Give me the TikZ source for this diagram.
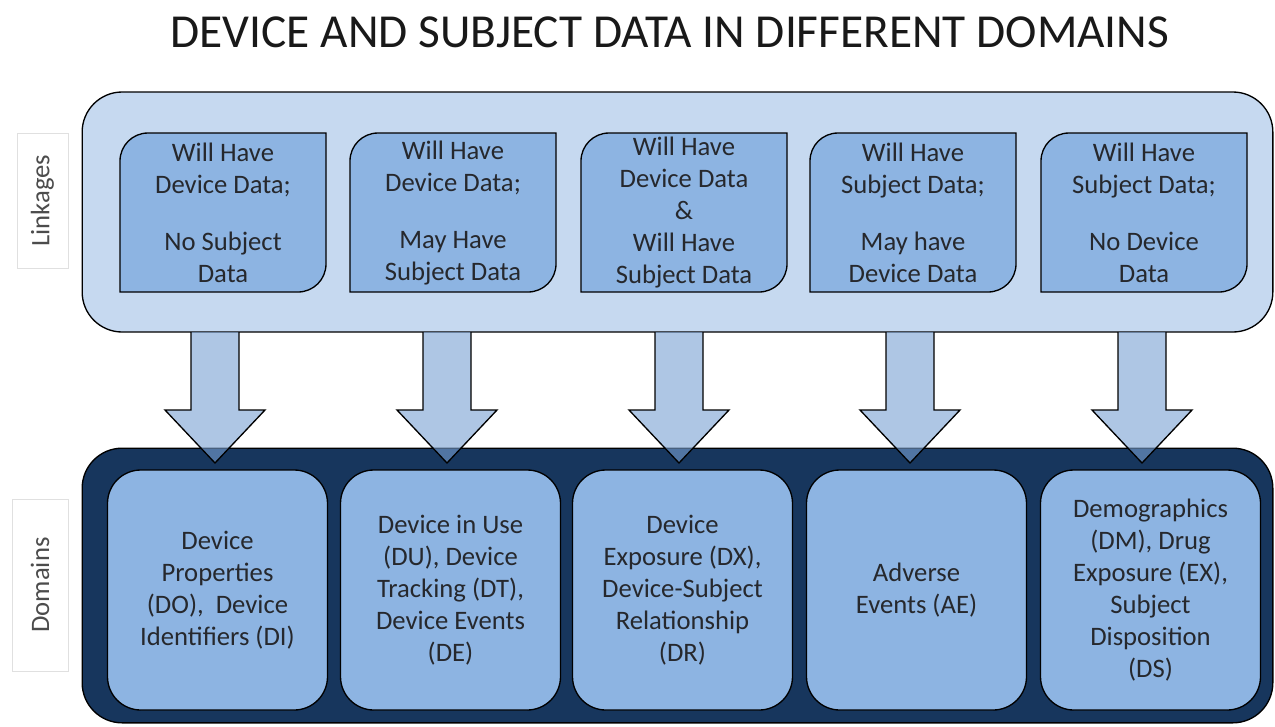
\documentclass[tikz,border=0pt]{standalone}
\usepackage{fontspec}
\setmainfont{Carlito}
\usepackage{xcolor}
\usepackage{tikz}
\usetikzlibrary{calc}

\definecolor{panelbg}{RGB}{198,217,240}
\definecolor{boxbg}{RGB}{141,180,226}
\definecolor{darkbg}{RGB}{23,54,93}
\definecolor{arrowbg}{RGB}{120,160,210}
\definecolor{boxtext}{RGB}{38,40,45}

% box with two rounded corners (top left, bottom right)
\newcommand{\linkshape}[4]{%
  \draw[lkbox] (#1+28,#2) -- (#3,#2) -- (#3,#4-28) arc[start angle=0,end angle=90,radius=28]
    -- (#1,#4) -- (#1,#2+28) arc[start angle=180,end angle=270,radius=28] -- cycle;}

\begin{document}
\begin{tikzpicture}[x=0.75pt,y=0.75pt,yscale=-1,xscale=1,
  every node/.style={font=\fontsize{20}{24}\selectfont,text=boxtext,align=center,inner sep=0pt},
  panel/.style={draw=black,line width=1pt,rounded corners=30pt,minimum width=893pt},
  lkbox/.style={draw=black,line width=1pt,fill=boxbg},
  dmbox/.style={draw=black,line width=1pt,fill=boxbg,rounded corners=25pt,minimum width=165pt,minimum height=180pt},
  sidelabel/.style={draw=black!12,fill=white,rotate=90,text=black!70},
  blockarrow/.style={draw=black,line width=1pt,fill=arrowbg,fill opacity=0.6}]
\useasboundingbox (0,0) rectangle (1275,726);

% Title
\node (title) at (670,32) {\fontsize{35.5}{40}\selectfont\color{black!90}DEVICE AND SUBJECT DATA IN DIFFERENT DOMAINS};

% Panels
\node[panel,fill=panelbg,minimum height=180pt] (link) at (677.5,212) {};
\node[panel,fill=darkbg,minimum height=206pt] (dom) at (677.5,585.5) {};

% Side labels
\node[sidelabel,minimum width=101pt,minimum height=38pt] (lklabel) at (42.5,200.5) {Linkages};
\node[sidelabel,minimum width=129pt,minimum height=42pt] (dmlabel) at (40,585) {Domains};

% Linkage boxes
\foreach \x in {120,350,581,810,1041} {\linkshape{\x}{133}{\x+206}{292}}
\node (lk1) at (223,213) {Will Have\\Device Data;\\[19pt]No Subject\\Data};
\node (lk2) at (453,213) {Will Have\\Device Data;\\[19pt]May Have\\Subject Data};
\node (lk3) at (684,213) {Will Have\\Device Data\\\&\\Will Have\\Subject Data};
\node (lk4) at (913,213) {Will Have\\Subject Data;\\[19pt]May have\\Device Data};
\node (lk5) at (1144,213) {Will Have\\Subject Data;\\[19pt]No Device\\Data};

% Arrows
\foreach \x in {215,447,679,910,1142}
  \draw[blockarrow] (\x-24,332) -- (\x-24,410) -- (\x-50,410) -- (\x,463) -- (\x+50,410) -- (\x+24,410) -- (\x+24,332);

% Domain boxes
\node[dmbox] (dm1) at (217.5,590) {Device\\Properties\\(DO),~ Device\\Identifiers (DI)};
\node[dmbox] (dm2) at (450.5,590) {Device in Use\\(DU), Device\\Tracking (DT),\\Device Events\\(DE)};
\node[dmbox] (dm3) at (682.5,590) {Device\\Exposure (DX),\\Device-Subject\\Relationship\\(DR)};
\node[dmbox] (dm4) at (916.5,590) {Adverse\\Events (AE)};
\node[dmbox] (dm5) at (1150.5,590) {Demographics\\(DM), Drug\\Exposure (EX),\\Subject\\Disposition\\(DS)};
\end{tikzpicture}
\end{document}
